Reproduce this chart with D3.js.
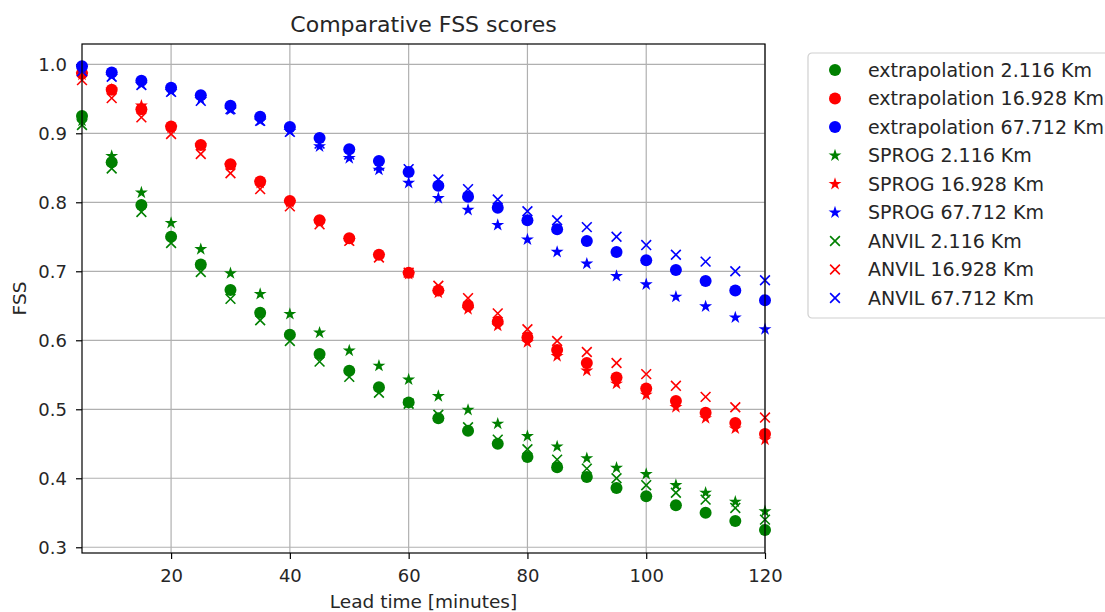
<!DOCTYPE html>
<html>
<head>
<meta charset="utf-8">
<script src="https://cdn.jsdelivr.net/npm/d3@7"></script>
<style>
  body { margin: 0; background: #fff; }
  text { font-family: "DejaVu Sans", sans-serif; fill: #262626; }
</style>
</head>
<body>
<svg id="chart"></svg>
<script>
var w = 1105, h = 612;
var margin = {top: 44, right: 340, bottom: 59, left: 82};

// lead times in minutes
var leadTimes = [5,10,15,20,25,30,35,40,45,50,55,60,65,70,75,80,85,90,95,100,105,110,115,120];

var extrap_2 = [0.925,0.858,0.796,0.750,0.710,0.673,0.640,0.608,0.580,0.556,0.532,0.510,0.487,0.469,0.450,0.431,0.416,0.402,0.386,0.374,0.361,0.350,0.338,0.325];
var extrap_16 = [0.987,0.963,0.935,0.910,0.883,0.855,0.830,0.802,0.774,0.748,0.724,0.698,0.672,0.650,0.627,0.604,0.586,0.567,0.546,0.530,0.512,0.495,0.480,0.464];
var extrap_67 = [0.997,0.988,0.976,0.966,0.955,0.940,0.924,0.909,0.893,0.877,0.860,0.844,0.824,0.808,0.792,0.774,0.761,0.744,0.728,0.716,0.702,0.686,0.672,0.658];

var sprog_2 = [0.918,0.867,0.814,0.770,0.732,0.697,0.667,0.638,0.611,0.585,0.563,0.543,0.519,0.499,0.479,0.461,0.446,0.429,0.415,0.406,0.390,0.379,0.366,0.352];
var sprog_16 = [0.985,0.963,0.940,0.908,0.882,0.853,0.828,0.800,0.772,0.745,0.722,0.696,0.669,0.645,0.621,0.597,0.577,0.556,0.537,0.521,0.503,0.487,0.472,0.456];
var sprog_67 = [0.995,0.983,0.971,0.961,0.949,0.934,0.918,0.903,0.881,0.864,0.847,0.828,0.806,0.789,0.767,0.746,0.728,0.711,0.693,0.681,0.663,0.649,0.633,0.616];

var anvil_2 = [0.912,0.849,0.786,0.741,0.699,0.660,0.629,0.599,0.569,0.547,0.524,0.508,0.492,0.474,0.456,0.442,0.427,0.414,0.400,0.390,0.379,0.369,0.357,0.340];
var anvil_16 = [0.977,0.951,0.923,0.899,0.870,0.842,0.819,0.794,0.768,0.744,0.720,0.698,0.679,0.661,0.639,0.616,0.599,0.583,0.567,0.551,0.534,0.518,0.503,0.488];
var anvil_67 = [0.990,0.982,0.970,0.960,0.947,0.935,0.918,0.902,0.885,0.869,0.853,0.848,0.833,0.819,0.804,0.787,0.774,0.764,0.750,0.738,0.724,0.714,0.700,0.687];

var xTicks = [20,40,60,80,100,120];
var yTicks = [0.3,0.4,0.5,0.6,0.7,0.8,0.9,1.0];

var series = [
  {name: "extrapolation 2.116 Km", values: extrap_2, color: "green", shape: "circle"},
  {name: "extrapolation 16.928 Km", values: extrap_16, color: "red", shape: "circle"},
  {name: "extrapolation 67.712 Km", values: extrap_67, color: "blue", shape: "circle"},
  {name: "SPROG 2.116 Km", values: sprog_2, color: "green", shape: "star"},
  {name: "SPROG 16.928 Km", values: sprog_16, color: "red", shape: "star"},
  {name: "SPROG 67.712 Km", values: sprog_67, color: "blue", shape: "star"},
  {name: "ANVIL 2.116 Km", values: anvil_2, color: "green", shape: "x"},
  {name: "ANVIL 16.928 Km", values: anvil_16, color: "red", shape: "x"},
  {name: "ANVIL 67.712 Km", values: anvil_67, color: "blue", shape: "x"}
];

var svg = d3.select("#chart").attr("width", w).attr("height", h);

var iw = w - margin.left - margin.right,
    ih = h - margin.top - margin.bottom;

var x = d3.scaleLinear().domain([5, 120]).range([0, iw]);
var y = d3.scaleLinear().domain([0.2917, 1.0294]).range([ih, 0]);

var g = svg.append("g").attr("transform", "translate(" + margin.left + "," + margin.top + ")");

// grid
g.append("g").selectAll("line").data(xTicks).enter().append("line")
  .attr("x1", function(d){ return x(d); }).attr("x2", function(d){ return x(d); })
  .attr("y1", 0).attr("y2", ih)
  .style("stroke", "#b0b0b0").style("stroke-width", 1.2);
g.append("g").selectAll("line").data(yTicks).enter().append("line")
  .attr("y1", function(d){ return y(d); }).attr("y2", function(d){ return y(d); })
  .attr("x1", 0).attr("x2", iw)
  .style("stroke", "#b0b0b0").style("stroke-width", 1.2);

// axes
var xAxis = g.append("g").attr("transform", "translate(0," + ih + ")")
  .call(d3.axisBottom(x).tickValues(xTicks).tickSize(6).tickPadding(10));
var yAxis = g.append("g")
  .call(d3.axisLeft(y).tickValues(yTicks).tickFormat(d3.format(".1f")).tickSize(6).tickPadding(9));
[xAxis, yAxis].forEach(function(a){
  a.select(".domain").remove();
  a.selectAll("line").style("stroke", "#000").style("stroke-width", 1.2);
  a.selectAll("text").style("font-size", "18px").style("fill", "#262626")
    .style("font-family", "DejaVu Sans, sans-serif");
});

// markers
var starSym = d3.symbol().type(d3.symbolStar).size(52);
var xSym = d3.symbol().type(d3.symbolX).size(64);

function drawMarker(sel, s) {
  if (s.shape == "circle") {
    sel.append("circle").attr("r", 6).style("fill", s.color);
  } else if (s.shape == "star") {
    sel.append("path").attr("d", starSym()).style("fill", s.color);
  } else {
    sel.append("path").attr("d", xSym()).style("fill", "none")
      .style("stroke", s.color).style("stroke-width", 1.6);
  }
}

var plot = g.append("g");
series.forEach(function(s){
  plot.append("g").selectAll("g")
    .data(s.values).enter().append("g")
    .attr("transform", function(d, i){ return "translate(" + x(leadTimes[i]) + "," + y(d) + ")"; })
    .each(function(){ drawMarker(d3.select(this), s); });
});

// frame
g.append("rect").attr("width", iw).attr("height", ih)
  .style("fill", "none").style("stroke", "#000").style("stroke-width", 1.2);

// title & labels
svg.append("text").attr("x", margin.left + iw/2).attr("y", 32)
  .attr("text-anchor", "middle").style("font-size", "22px").text("Comparative FSS scores");
svg.append("text").attr("x", margin.left + iw/2).attr("y", 608)
  .attr("text-anchor", "middle").style("font-size", "18.5px").text("Lead time [minutes]");
svg.append("text").attr("transform", "translate(26," + (margin.top + ih/2) + ") rotate(-90)")
  .attr("text-anchor", "middle").style("font-size", "18.5px").text("FSS");

// legend
var legend = svg.append("g").attr("transform", "translate(808,53)");
legend.append("rect").attr("width", 320).attr("height", 265).attr("rx", 4)
  .style("fill", "#fff").style("stroke", "#d0d0d0").style("stroke-width", 1.2);
series.forEach(function(s, i){
  var row = legend.append("g").attr("transform", "translate(0," + (17 + i * 28.5) + ")");
  drawMarker(row.append("g").attr("transform", "translate(27,0)"), s);
  row.append("text").attr("x", 60).attr("y", 6.5).style("font-size", "19px").text(s.name);
});
</script>
</body>
</html>
